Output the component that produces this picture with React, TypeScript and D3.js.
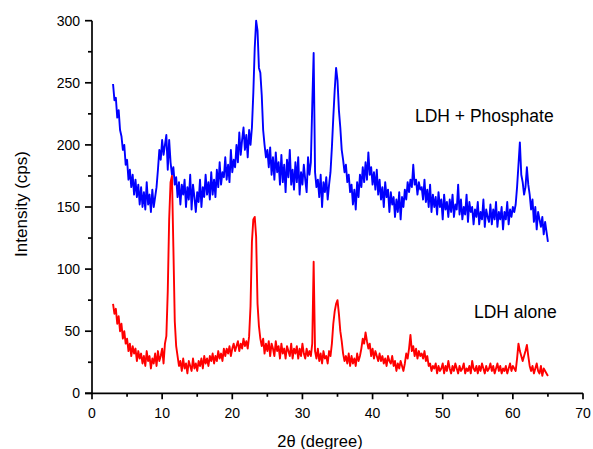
import React from "react";
import * as d3 from "d3";

const X_START = 3;
const X_STEP = 0.2;

const xTicksMajor = [0, 10, 20, 30, 40, 50, 60, 70];
const xTicksMinor = [5, 15, 25, 35, 45, 55, 65];
const yTicksMajor = [0, 50, 100, 150, 200, 250, 300];
const yTicksMinor = [25, 75, 125, 175, 225, 275];

const phosphate = [
  249, 236, 238, 222, 228, 212, 207, 196, 200, 184,
  188, 172, 180, 166, 176, 160, 172, 158, 168, 152,
  166, 150, 162, 148, 170, 152, 160, 146, 164, 150,
  158, 166, 180, 196, 188, 204, 192, 200, 208, 180,
  204, 186, 176, 182, 168, 174, 158, 170, 152, 168,
  160, 172, 150, 166, 156, 176, 148, 168, 158, 146,
  162, 154, 172, 150, 166, 158, 176, 160, 170, 156,
  178, 160, 172, 158, 180, 166, 186, 168, 178, 174,
  190, 172, 184, 170, 196, 178, 188, 182, 200, 186,
  210, 192, 204, 214, 196, 208, 190, 212, 200, 214,
  242, 278, 300, 292, 262, 258, 240, 212, 200, 190,
  196, 182, 198, 176, 190, 172, 194, 178, 186, 168,
  192, 170, 184, 162, 188, 174, 196, 168, 180, 164,
  186, 170, 190, 160, 178, 168, 184, 172, 162, 190,
  176, 186, 232, 274, 178, 166, 172, 158, 176, 150,
  170, 162, 174, 156, 168, 178, 198, 222, 244, 262,
  252, 228, 214, 196, 188, 178, 184, 170, 176, 162,
  168, 152, 164, 148, 170, 158, 176, 166, 182, 170,
  186, 172, 194, 176, 182, 168, 178, 164, 180, 160,
  172, 156, 166, 150, 170, 158, 164, 146, 162, 152,
  158, 142, 156, 146, 162, 140, 158, 150, 164, 156,
  170, 162, 172, 166, 184, 168, 172, 160, 170, 164,
  166, 156, 172, 154, 164, 150, 168, 146, 160, 150,
  158, 144, 162, 150, 156, 140, 160, 148, 154, 142,
  156, 146, 160, 142, 152, 148, 168, 144, 156, 140,
  150, 144, 160, 138, 154, 146, 150, 136, 148, 142,
  154, 136, 146, 140, 156, 134, 148, 142, 138, 152,
  136, 148, 140, 154, 134, 146, 140, 150, 132, 146,
  140, 154, 136, 148, 142, 150, 146, 152, 166, 184,
  202, 176, 170, 160, 166, 182, 168, 160, 148, 156,
  138, 150, 132, 146, 140, 134, 142, 128, 138, 130,
  122,
];

const alone = [
  72, 64, 68, 56, 62, 50, 56, 44, 50, 40,
  44, 34, 40, 30, 38, 32, 36, 26, 34, 28,
  32, 24, 30, 22, 34, 26, 30, 20, 28, 24,
  32, 22, 34, 26, 30, 36, 24, 40, 46, 82,
  140, 170, 175, 118, 58, 38, 30, 22, 26, 18,
  28, 20, 24, 16, 26, 22, 18, 28, 20, 24,
  18, 26, 22, 28, 20, 30, 24, 28, 22, 30,
  26, 32, 24, 30, 26, 34, 28, 32, 26, 36,
  30, 36, 32, 38, 30, 36, 40, 34, 38, 42,
  34, 40, 36, 44, 38, 42, 36, 46, 70, 122,
  140, 142, 126, 72, 54, 44, 38, 44, 32, 40,
  34, 42, 30, 40, 36, 30, 42, 34, 38, 28,
  40, 32, 36, 28, 38, 34, 30, 40, 28, 36,
  32, 38, 28, 36, 30, 40, 32, 28, 36, 30,
  34, 30, 40, 106, 34, 28, 36, 26, 32, 24,
  34, 28, 30, 24, 34, 30, 40, 56, 66, 72,
  75, 64, 50, 42, 32, 26, 30, 24, 32, 22,
  30, 24, 28, 22, 32, 26, 30, 36, 44, 40,
  49, 42, 36, 40, 30, 36, 28, 34, 30, 26,
  32, 26, 30, 24, 28, 22, 30, 26, 24, 30,
  22, 26, 18, 24, 20, 26, 22, 18, 24, 32,
  28, 36, 47, 34, 38, 30, 36, 28, 34, 30,
  32, 28, 34, 26, 30, 22, 24, 18, 22, 20,
  24, 16, 22, 18, 20, 24, 16, 22, 18, 26,
  20, 16, 22, 18, 24, 20, 16, 22, 18, 20,
  24, 16, 20, 18, 22, 16, 26, 20, 18, 22,
  16, 22, 18, 24, 20, 16, 22, 18, 20, 24,
  18, 22, 16, 20, 24, 18, 22, 16, 20, 18,
  22, 16, 20, 24, 18, 22, 20, 18, 28, 40,
  34, 30, 26, 30, 34, 39, 30, 22, 18, 22,
  16, 20, 24, 18, 16, 22, 14, 20, 18, 16,
  14,
];

const labels = { top: "LDH + Phosphate", bottom: "LDH alone" };

const W = 593;
const H = 449;
const FONT = "'Liberation Sans', Arial, sans-serif";

export default function App() {
  const x = d3.scaleLinear().domain([0, 70]).range([92, 583]);
  const y = d3.scaleLinear().domain([0, 300]).range([393.3, 20.7]);
  const toPts = (arr: number[]) =>
    arr.map((v, i) => [+(X_START + i * X_STEP).toFixed(2), v] as [number, number]);
  const line = d3
    .line<[number, number]>()
    .x((d) => x(d[0]))
    .y((d) => y(d[1]));

  const x0 = x(0);
  const y0 = y(0);

  return (
    <svg
      width={W}
      height={H}
      style={{ position: "absolute", left: 0, top: 0, background: "#fff" }}
      fontFamily={FONT}
    >
      <rect width={W} height={H} fill="#fff" />
      <path d={line(toPts(phosphate)) || ""} fill="none" stroke="#0000ff" strokeWidth={1.9} strokeLinejoin="round" />
      <path d={line(toPts(alone)) || ""} fill="none" stroke="#ff0000" strokeWidth={1.9} strokeLinejoin="round" />

      <line x1={x0} x2={x0} y1={y(300)} y2={y0} stroke="#000" strokeWidth={1.7} />
      <line x1={x0 - 7} x2={x(70)} y1={y0} y2={y0} stroke="#000" strokeWidth={1.7} />
      {yTicksMajor.map((t) => (
        <g key={"ym" + t}>
          <line x1={x0 - 7} x2={x0} y1={y(t)} y2={y(t)} stroke="#000" strokeWidth={1.7} />
          <text x={x0 - 12} y={y(t)} dy="0.35em" textAnchor="end" fontSize={14} fill="#000">
            {t}
          </text>
        </g>
      ))}
      {yTicksMinor.map((t) => (
        <line key={"yn" + t} x1={x0 - 4} x2={x0} y1={y(t)} y2={y(t)} stroke="#000" strokeWidth={1.7} />
      ))}
      {xTicksMajor.map((t) => (
        <g key={"xm" + t}>
          <line x1={x(t)} x2={x(t)} y1={y0} y2={y0 + 6} stroke="#000" strokeWidth={1.7} />
          <text x={x(t)} y={418} textAnchor="middle" fontSize={14} fill="#000">
            {t}
          </text>
        </g>
      ))}
      {xTicksMinor.map((t) => (
        <line key={"xn" + t} x1={x(t)} x2={x(t)} y1={y0} y2={y0 + 3.5} stroke="#000" strokeWidth={1.7} />
      ))}

      <text x={320} y={447} textAnchor="middle" fontSize={16.5} fill="#000">
        2θ (degree)
      </text>
      <text
        transform={`translate(27, 204) rotate(-90)`}
        textAnchor="middle"
        fontSize={17}
        fill="#000"
      >
        Intensity (cps)
      </text>

      <text x={415} y={122} fontSize={17.5} fill="#000">
        {labels.top}
      </text>
      <text x={474} y={318} fontSize={17.5} fill="#000">
        {labels.bottom}
      </text>
    </svg>
  );
}
